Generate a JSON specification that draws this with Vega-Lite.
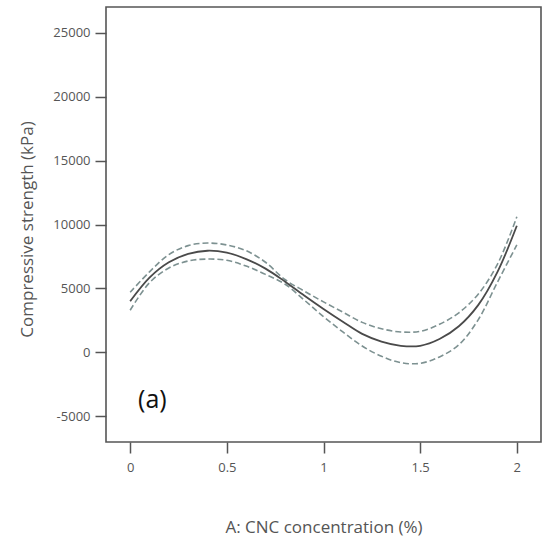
{
  "$schema": "https://vega.github.io/schema/vega-lite/v6.json",
  "width": 435,
  "height": 435,
  "autosize": "none",
  "padding": {"left": 106, "top": 7, "right": 3, "bottom": 99},
  "background": "white",
  "config": {
    "view": {"stroke": "#555555", "strokeWidth": 1.6},
    "axis": {
      "grid": false,
      "domain": false,
      "tickColor": "#555555",
      "tickSize": 11,
      "tickWidth": 1.5,
      "labelColor": "#555555",
      "labelFont": "Open Sans",
      "labelFontSize": 13,
      "titleFont": "Open Sans",
      "titleFontSize": 17,
      "titleFontWeight": "normal",
      "titleColor": "#555555"
    }
  },
  "datasets": {
    "curves": [
      {"x": 0.0, "mean": 4000, "upper": 4700, "lower": 3300},
      {"x": 0.1, "mean": 5850, "upper": 6300, "lower": 5450},
      {"x": 0.2, "mean": 7050, "upper": 7650, "lower": 6600},
      {"x": 0.3, "mean": 7700, "upper": 8350, "lower": 7150},
      {"x": 0.4, "mean": 7950, "upper": 8550, "lower": 7300},
      {"x": 0.5, "mean": 7800, "upper": 8400, "lower": 7200},
      {"x": 0.6, "mean": 7300, "upper": 7950, "lower": 6750},
      {"x": 0.7, "mean": 6550, "upper": 7050, "lower": 6100},
      {"x": 0.8, "mean": 5550, "upper": 5700, "lower": 5350},
      {"x": 0.9, "mean": 4450, "upper": 4800, "lower": 4100},
      {"x": 1.0, "mean": 3400, "upper": 3950, "lower": 2800},
      {"x": 1.1, "mean": 2400, "upper": 3150, "lower": 1600},
      {"x": 1.2, "mean": 1450, "upper": 2350, "lower": 500},
      {"x": 1.3, "mean": 850, "upper": 1850, "lower": -300},
      {"x": 1.4, "mean": 520, "upper": 1600, "lower": -800},
      {"x": 1.5, "mean": 520, "upper": 1650, "lower": -850},
      {"x": 1.6, "mean": 1050, "upper": 2200, "lower": -350},
      {"x": 1.7, "mean": 2050, "upper": 3100, "lower": 600},
      {"x": 1.8, "mean": 3700, "upper": 4550, "lower": 2550},
      {"x": 1.9, "mean": 6300, "upper": 6900, "lower": 5500},
      {"x": 2.0, "mean": 9900, "upper": 10600, "lower": 8400}
    ],
    "labels": [
      {"x": 0.115, "y": -3700, "text": "(a)"}
    ]
  },
  "layer": [
    {
      "data": {"name": "curves"},
      "transform": [{"fold": ["upper", "lower"], "as": ["bound", "value"]}],
      "mark": {"type": "line", "interpolate": "catmull-rom", "strokeDash": [6, 3], "strokeWidth": 1.6, "color": "#7d9191"},
      "encoding": {
        "x": {
          "field": "x", "type": "quantitative",
          "scale": {"domain": [-0.125, 2.125], "nice": false, "zero": false},
          "axis": {
            "values": [0, 0.5, 1, 1.5, 2], "format": "~g",
            "title": "A: CNC concentration (%)",
            "labelPadding": 8,
            "titleX": 217.5, "titleY": 85, "titleBaseline": "middle", "titleAlign": "center"
          }
        },
        "y": {
          "field": "value", "type": "quantitative",
          "scale": {"domain": [-7000, 27000], "nice": false, "zero": false},
          "axis": {
            "values": [-5000, 0, 5000, 10000, 15000, 20000, 25000],
            "labelExpr": "'' + datum.value",
            "title": "Compressive strength (kPa)",
            "labelPadding": 5,
            "titleX": -79, "titleY": 222, "titleBaseline": "middle", "titleAlign": "center", "titleAngle": -90
          }
        },
        "detail": {"field": "bound", "type": "nominal"}
      }
    },
    {
      "data": {"name": "curves"},
      "mark": {"type": "line", "interpolate": "catmull-rom", "strokeWidth": 1.8, "color": "#4a4a4a"},
      "encoding": {
        "x": {"field": "x", "type": "quantitative"},
        "y": {"field": "mean", "type": "quantitative"}
      }
    },
    {
      "data": {"name": "labels"},
      "mark": {"type": "text", "font": "Open Sans", "fontSize": 25, "color": "#111111", "align": "center", "baseline": "middle"},
      "encoding": {
        "x": {"field": "x", "type": "quantitative"},
        "y": {"field": "y", "type": "quantitative"},
        "text": {"field": "text"}
      }
    }
  ]
}
